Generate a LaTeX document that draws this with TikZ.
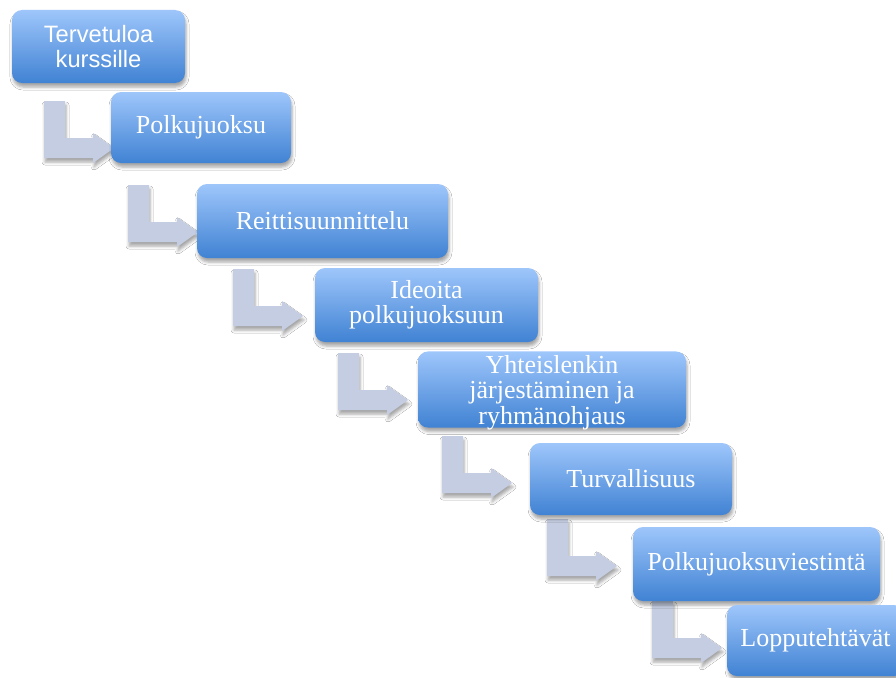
\documentclass[tikz,border=0pt]{standalone}
\usepackage{fontspec}
\setmainfont{Liberation Serif}
\newfontfamily\headsans{Liberation Sans}
\usetikzlibrary{shadows.blur}
\definecolor{boxtop}{RGB}{158,198,251}
\definecolor{boxmid}{RGB}{122,172,240}
\definecolor{boxbot}{RGB}{64,130,211}
\definecolor{arrowfill}{RGB}{196,205,225}
\begin{document}
\begin{tikzpicture}[x=1pt,y=-1pt,
  softshadow/.style={blur shadow={shadow xshift=1pt, shadow yshift=-4pt,
      shadow blur radius=3pt, shadow opacity=35}},
  stepbox/.style={rounded corners=10pt, inner sep=0pt, outer sep=0pt,
      top color=boxtop, middle color=boxmid, bottom color=boxbot,
      text=white, align=center, font=\fontsize{26}{25}\selectfont,
      softshadow},
  pics/elbowarrow/.style={code={
      \fill[arrowfill, softshadow]
        (0,0) -- (21,0) -- (21,37) -- (49,37) -- (49,32) -- (70,47)
        -- (49,62) -- (49,57) -- (0,57) -- cycle;
  }}]
\clip (0,0) rectangle (896,677);
\fill[white] (0,0) rectangle (896,677);

% elbow arrows leading from each step to the next
\pic (a1) at (44,101)  {elbowarrow};
\pic (a2) at (128,185) {elbowarrow};
\pic (a3) at (233,269) {elbowarrow};
\pic (a4) at (338,353) {elbowarrow};
\pic (a5) at (442,436) {elbowarrow};
\pic (a6) at (547,519) {elbowarrow};
\pic (a7) at (652,601) {elbowarrow};

% course steps
\node[stepbox, minimum width=173pt, minimum height=73pt,
      font=\headsans\fontsize{23.7}{25}\selectfont]
  (b1) at (98.5,46.5) {Tervetuloa\\kurssille};
\node[stepbox, minimum width=180pt, minimum height=71pt] (b2) at (201,127.5) {Polkujuoksu};
\node[stepbox, minimum width=251pt, minimum height=74pt] (b3) at (322.5,221) {Reittisuunnittelu};
\node[stepbox, minimum width=223pt, minimum height=74pt] (b4) at (426.5,305) {Ideoita\\polkujuoksuun};
\node[stepbox, minimum width=268pt, minimum height=73pt] (b5) at (552,389.5)
  {\raisebox{-4pt}[\height][\depth]{\begin{tabular}{@{}c@{}}Yhteislenkin\\järjestäminen ja\\ryhmänohjaus\end{tabular}}};
\node[stepbox, minimum width=202pt, minimum height=72pt] (b6) at (631,479) {Turvallisuus};
\node[stepbox, minimum width=247pt, minimum height=74pt] (b7) at (756.5,564) {Polkujuoksuviestintä};
\node[stepbox, minimum width=177pt, minimum height=71pt] (b8) at (815.5,640.5) {Lopputehtävät};
\end{tikzpicture}
\end{document}
